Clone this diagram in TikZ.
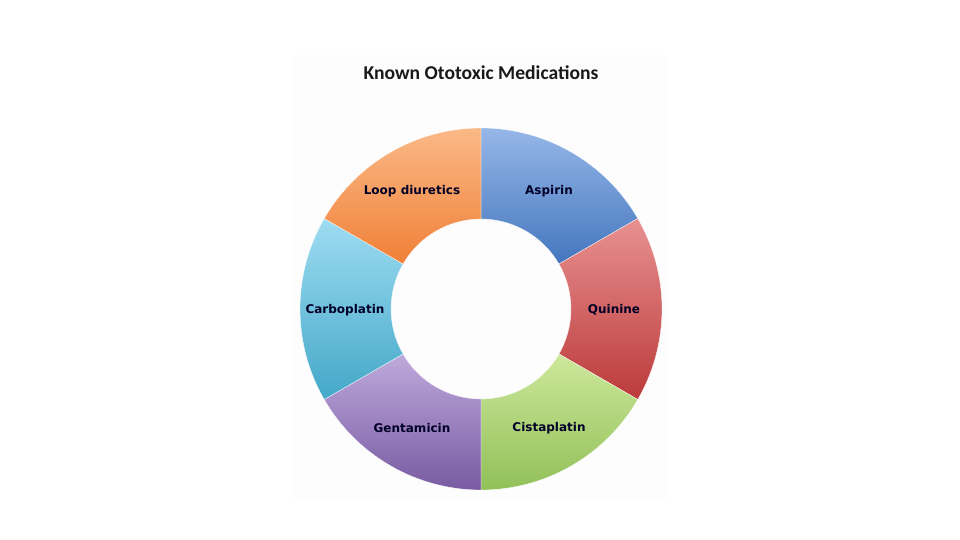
\documentclass[tikz,border=0pt]{standalone}
\usepackage{fontspec}
\setmainfont{Carlito}
\newfontfamily\labfont{DejaVu Sans}
\begin{document}
\begin{tikzpicture}[x=1pt,y=1pt,
  seglabel/.style={font=\labfont\bfseries\fontsize{12}{14}\selectfont, text=black!85!blue},
  segment/.style={draw=white, line width=0.3pt}]
\useasboundingbox (0,0) rectangle (960,540);
\fill[white] (0,0) rectangle (960,540);
\fill[black!0.8] (293,40) rectangle (667,485);
\definecolor{asptop}{RGB}{150,183,232}\definecolor{aspbot}{RGB}{68,118,190}
\definecolor{quitop}{RGB}{232,145,145}\definecolor{quibot}{RGB}{188,58,58}
\definecolor{cistop}{RGB}{205,232,155}\definecolor{cisbot}{RGB}{145,192,88}
\definecolor{gentop}{RGB}{190,170,220}\definecolor{genbot}{RGB}{120,90,162}
\definecolor{cartop}{RGB}{158,220,242}\definecolor{carbot}{RGB}{68,168,200}
\definecolor{looptop}{RGB}{250,185,135}\definecolor{loopbot}{RGB}{240,128,55}
\begin{scope}[shift={(481,231)}]
\foreach \a/\b/\ct/\cb in {30/90/asptop/aspbot, -30/30/quitop/quibot, -90/-30/cistop/cisbot, 210/270/gentop/genbot, 150/210/cartop/carbot, 90/150/looptop/loopbot}{
  \path[segment, top color=\ct, bottom color=\cb]
    (\a:181) arc[start angle=\a, end angle=\b, radius=181]
    -- (\b:90) arc[start angle=\b, end angle=\a, radius=90] -- cycle;
}
\end{scope}
\node[font=\bfseries\fontsize{19.6}{23}\selectfont, text=black!90] (title) at (481,467) {Known Ototoxic Medications};
\node[seglabel] (aspirin) at (549,349) {Aspirin};
\node[seglabel] (quinine) at (614,230) {Quinine};
\node[seglabel] (cista) at (549,112) {Cistaplatin};
\node[seglabel] (genta) at (412,112) {Gentamicin};
\node[seglabel] (carbo) at (345,230) {Carboplatin};
\node[seglabel] (loop) at (412,349) {Loop diuretics};
\end{tikzpicture}
\end{document}
